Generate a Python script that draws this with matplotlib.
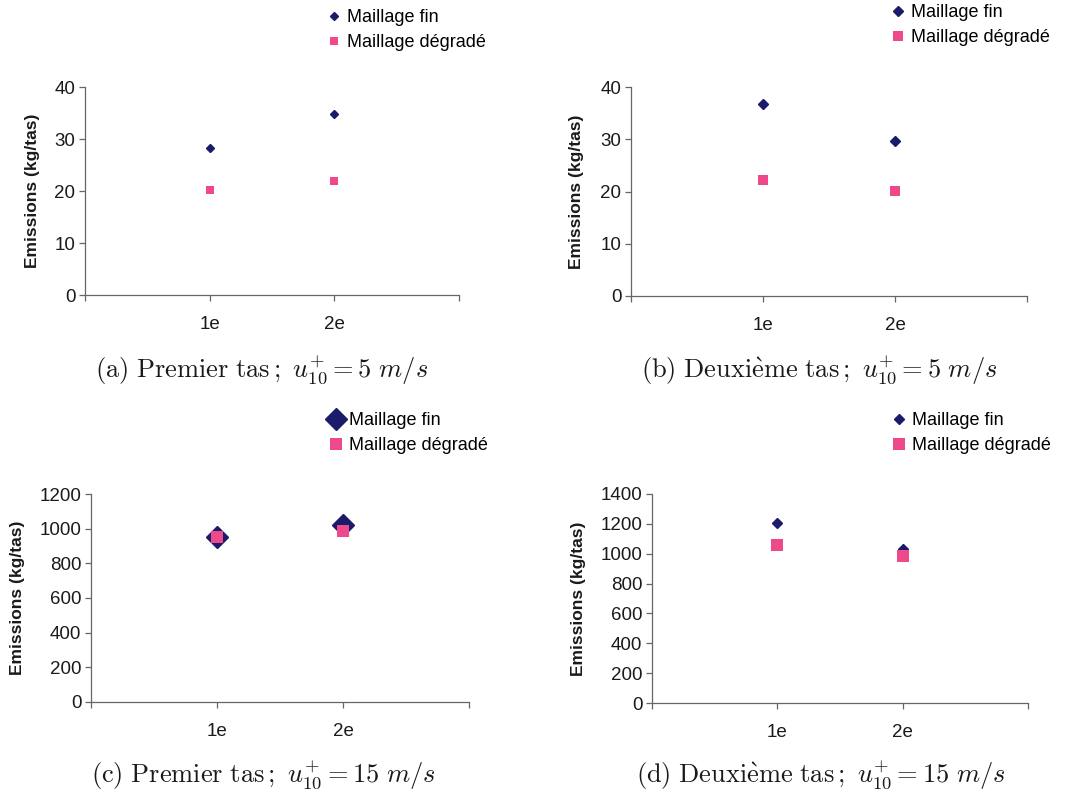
import matplotlib
matplotlib.use("Agg")
import matplotlib.pyplot as plt
import matplotlib.transforms as mtransforms

plt.rcParams['font.family'] = 'Liberation Sans'
plt.rcParams['mathtext.fontset'] = 'cm'

categories = ["1e", "2e"]
fin_a = [28.2, 34.9]
degrade_a = [20.1, 22.0]
fin_b = [36.8, 29.7]
degrade_b = [22.2, 20.1]
fin_c = [952, 1019]
degrade_c = [950, 985]
fin_d = [1205, 1030]
degrade_d = [1060, 986]

captions = [
    r"$\mathrm{(a)\ Premier\ tas\,;}\ u_{10}^{+}=5\ m/s$",
    r"$\mathrm{(b)\ Deuxi\grave{e}me\ tas\,;}\ u_{10}^{+}=5\ m/s$",
    r"$\mathrm{(c)\ Premier\ tas\,;}\ u_{10}^{+}=15\ m/s$",
    r"$\mathrm{(d)\ Deuxi\grave{e}me\ tas\,;}\ u_{10}^{+}=15\ m/s$",
]

W, H = 1068, 791
fig = plt.figure(figsize=(W / 100, H / 100), dpi=100)

NAVY = '#1b1b6b'
PINK = '#ee4a8b'
GREY = '#666666'
TXT = '#1a1a1a'


def px_axes(left, right, top, bottom):
    return fig.add_axes([left / W, 1 - bottom / H, (right - left) / W, (bottom - top) / H])


panels = [
    dict(box=(85, 459, 87, 295), fin=fin_a, deg=degrade_a, ymax=40, step=10,
         ms=(4.5, 6), leg=(326, 9), ylab=33, cap=(262, 370)),
    dict(box=(631, 1027, 87, 296), fin=fin_b, deg=degrade_b, ymax=40, step=10,
         ms=(5, 7), leg=(890, 4), ylab=577, cap=(819, 370)),
    dict(box=(91, 469, 494, 702), fin=fin_c, deg=degrade_c, ymax=1200, step=200,
         ms=(11, 8), leg=(328, 412), ylab=18, cap=(263, 775)),
    dict(box=(652, 1028, 494, 703), fin=fin_d, deg=degrade_d, ymax=1400, step=200,
         ms=(5, 8), leg=(891, 412), ylab=579, cap=(821, 775)),
]

for p, caption in zip(panels, captions):
    ax = px_axes(*p['box'])
    xs = list(range(1, len(categories) + 1))
    ax.plot(xs, p['fin'], linestyle='none', marker='D', ms=p['ms'][0],
            color=NAVY, label='Maillage fin', zorder=3)
    ax.plot(xs, p['deg'], linestyle='none', marker='s', ms=p['ms'][1],
            color=PINK, markeredgewidth=0, label='Maillage dégradé', zorder=4)
    ax.set_xlim(0, 3)
    ax.set_ylim(0, p['ymax'])
    ax.set_yticks(range(0, p['ymax'] + 1, p['step']))
    ax.set_xticks([0, 1, 2, 3])
    ax.set_xticklabels([''] + categories + [''])
    offset = mtransforms.ScaledTranslation(8 / 100, 0, fig.dpi_scale_trans)
    for lbl in ax.get_xticklabels():
        lbl.set_transform(lbl.get_transform() + offset)
    for s in ['top', 'right']:
        ax.spines[s].set_visible(False)
    for s in ['left', 'bottom']:
        ax.spines[s].set_color(GREY)
        ax.spines[s].set_linewidth(0.9)
    ax.tick_params(axis='both', colors=GREY, labelcolor=TXT, labelsize=13.5,
                   length=4, width=0.9)
    ax.tick_params(axis='x', pad=11)
    ax.tick_params(axis='y', pad=3)
    ax.patch.set_visible(False)

    ycen = (p['box'][2] + p['box'][3]) / 2
    fig.text(p['ylab'] / W, 1 - ycen / H, 'Emissions (kg/tas)', rotation=90,
             ha='center', va='center', fontsize=12.5, fontweight='bold', color=TXT)

    lx, ly = p['leg']
    ax.legend(loc='upper left', bbox_to_anchor=(lx / W, 1 - ly / H),
              bbox_transform=fig.transFigure, frameon=False, fontsize=13,
              handlelength=0.9, handletextpad=0.25, borderpad=0, borderaxespad=0,
              labelspacing=0.45, markerscale=1.0)

    cx, cy = p['cap']
    fig.text(cx / W, 1 - cy / H, caption, ha='center', va='center',
             fontsize=19, color=TXT)

fig.savefig('out.png', dpi=100, facecolor='white')
